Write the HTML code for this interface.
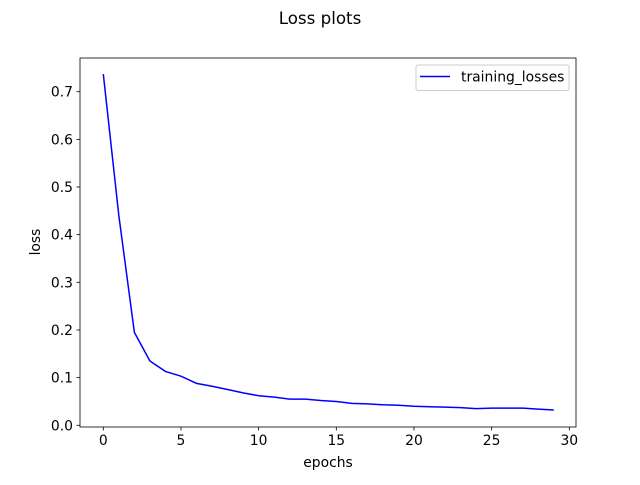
<!DOCTYPE html>
<html><head><meta charset="utf-8"><style>
body{margin:0;background:#fff;}
svg text{font-family:"DejaVu Sans","Liberation Sans",sans-serif;fill:#000;}
</style></head><body>
<svg id="chart" width="640" height="480" viewBox="0 0 640 480">
<rect width="640" height="480" fill="#fff"/>
<text x="320" y="24" font-size="16.7" text-anchor="middle">Loss plots</text>
<g id="axes"></g>
<text x="328" y="467" font-size="13.9" text-anchor="middle">epochs</text>
<text x="0" y="0" font-size="13.9" text-anchor="middle" transform="translate(40,242) rotate(-90)">loss</text>
<g>
<rect x="416" y="65" width="153" height="25.5" rx="2" fill="#fff" stroke="#ccc"/>
<line x1="420" y1="76.5" x2="450" y2="76.5" stroke="#0000ff" stroke-width="1.5"/>
<text x="461" y="81.5" font-size="13.9">training_losses</text>
</g>
</svg>
<script>
const epochs=[0,1,2,3,4,5,6,7,8,9,10,11,12,13,14,15,16,17,18,19,20,21,22,23,24,25,26,27,28,29];
const losses=[0.737,0.44,0.195,0.135,0.113,0.103,0.088,0.082,0.075,0.068,0.062,0.059,0.055,0.055,0.052,0.050,0.046,0.045,0.043,0.042,0.040,0.039,0.038,0.037,0.035,0.036,0.036,0.036,0.034,0.032];
const xTicks=[0,5,10,15,20,25,30];
const yTicks=[0.0,0.1,0.2,0.3,0.4,0.5,0.6,0.7];
const L=80,R=576,T=58,B=427;
const xmin=-1.5,xmax=30.43,ymin=-0.0036,ymax=0.7707;
const X=v=>L+(v-xmin)/(xmax-xmin)*(R-L);
const Y=v=>B-(v-ymin)/(ymax-ymin)*(B-T);
const NS="http://www.w3.org/2000/svg";
const g=document.getElementById('axes');
function mk(t,a){const e=document.createElementNS(NS,t);for(const k in a)e.setAttribute(k,a[k]);g.appendChild(e);return e;}
xTicks.forEach(v=>{
 const l=mk('line',{x1:X(v),x2:X(v),y1:B,y2:B+3.5,stroke:'#000','stroke-width':0.8});
 
 
 const t=mk('text',{x:X(v),y:B+18,'font-size':13.9,'text-anchor':'middle'});t.textContent=v;
 
 
});
yTicks.forEach(v=>{
 const l=mk('line',{x1:L-3.5,x2:L,y1:Y(v),y2:Y(v),stroke:'#000','stroke-width':0.8});
 
 
 const t=mk('text',{x:L-7,y:Y(v)+5,'font-size':13.9,'text-anchor':'end'});t.textContent=v.toFixed(1);
 
 
});
const p=mk('polyline',{points:epochs.map((e,i)=>X(e)+','+Y(losses[i])).join(' '),fill:'none',stroke:'#0000ff','stroke-width':1.5});


const f=mk('rect',{x:L,y:T,width:R-L,height:B-T,fill:'none',stroke:'#000','stroke-width':0.8});


</script>
</body></html>
